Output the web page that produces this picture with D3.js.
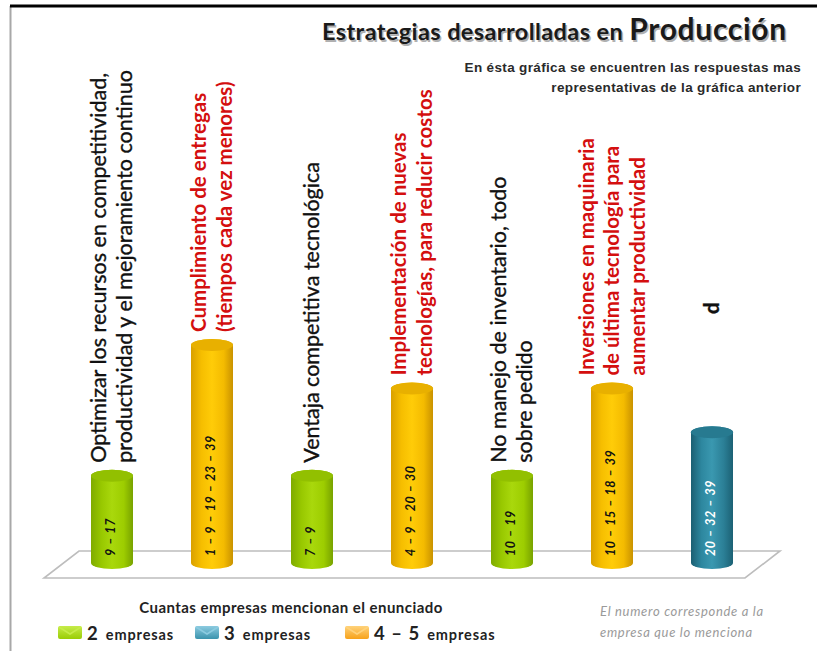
<!DOCTYPE html>
<html>
<head>
<meta charset="utf-8">
<script src="https://cdn.jsdelivr.net/npm/d3@7"></script>
<style>
body{margin:0;background:#fff}
svg{display:block}
</style>
</head>
<body>
<div id="chart"></div>
<script>
// data
var categories=[
	["Optimizar los recursos en competitividad,","productividad y el mejoramiento continuo"],
	["Cumplimiento de entregas","(tiempos cada vez menores)"],
	["Ventaja competitiva tecnológica"],
	["Implementación de nuevas","tecnologías, para reducir costos"],
	["No manejo de inventario, todo","sobre pedido"],
	["Inversiones en maquinaria","de última tecnología para","aumentar productividad"],
	["d"]
]
var companyCounts=[2,5,2,4,2,4,3]
var companyIds=["9 – 17","1 – 9 – 19 – 23 – 39","7 – 9","4 – 9 – 20 – 30","10 – 19","10 – 15 – 18 – 39","20 – 32 – 39"]
var legendGroups=["2","3","4 – 5"]
var legendWord="empresas"
var legendTitle="Cuantas empresas mencionan el enunciado"
var titleMain="Estrategias desarrolladas en"
var titleWord="Producción"
var subtitleLines=["En ésta gráfica se encuentren las respuestas mas","representativas de la gráfica anterior"]
var noteLines=["El numero corresponde a la","empresa que lo menciona"]

function groupOf(n){
	if(n<=2) return "2"
	if(n==3) return "3"
	return "4 – 5"
}

class ProductionChart{

	constructor(){
		this.W=817
		this.H=651
		this.graph={}
	}

	start(){
		this.graph.svg=d3.select("#chart").append("svg")
			.attr("width",this.W)
			.attr("height",this.H)
		this.makeGradients()
		this.drawFrame()
		this.drawTitle()
		this.drawScales()
		this.drawFloor()
		this.drawBars()
		this.drawLabels()
		this.drawLegend()
	}

	makeGradients(){
		var defs=this.graph.svg.append("defs")
		this.colors={
			"2":{side:["#7fab00","#98c800","#a9d80c","#9dcd00","#78a200"],top:"#92c000",key:"#9acd05",keyLight:"#c6ec4a"},
			"3":{side:["#1b5f72","#2d879f","#3a98b0","#2b7f96","#1c6174"],top:"#277a90",key:"#3b93ad",keyLight:"#8ccbe0"},
			"4 – 5":{side:["#d9a000","#f6be00","#ffcc08","#f4bb00","#c99200"],top:"#e8b000",key:"#f7a21a",keyLight:"#ffd27a"}
		}
		var thi=this
		legendGroups.forEach(function(g,i){
			var grad=defs.append("linearGradient")
				.attr("id","side"+i)
				.attr("x1","0").attr("x2","1").attr("y1","0").attr("y2","0")
			var offs=[0,0.25,0.5,0.78,1]
			thi.colors[g].side.forEach(function(c,j){
				grad.append("stop").attr("offset",offs[j]).attr("stop-color",c)
			})
			var kg=defs.append("linearGradient")
				.attr("id","key"+i)
				.attr("x1","0").attr("x2","0").attr("y1","0").attr("y2","1")
			kg.append("stop").attr("offset",0).attr("stop-color",thi.colors[g].keyLight)
			kg.append("stop").attr("offset",1).attr("stop-color",thi.colors[g].key)
		})
	}

	drawFrame(){
		var svg=this.graph.svg
		svg.append("line")
			.attr("x1",10.5).attr("x2",10.5).attr("y1",6).attr("y2",this.H)
			.attr("stroke","#a8a8a8").attr("stroke-width",2)
		svg.append("line")
			.attr("x1",10).attr("x2",this.W).attr("y1",6).attr("y2",6)
			.attr("stroke","#000").attr("stroke-width",3)
	}

	drawTitle(){
		var svg=this.graph.svg
		// shadow first, then the text
		var shadows=[{dx:1.5,fill:"#b0b0b0"},{dx:0,fill:"#1a1a1a"}]
		shadows.forEach(function(s){
			var t=svg.append("text")
				.attr("x",322+s.dx).attr("y",40+s.dx)
				.attr("font-family","Lato, 'Open Sans', sans-serif")
				.attr("font-weight","bold")
				.attr("fill",s.fill)
			t.append("tspan").attr("font-size",23.5).attr("letter-spacing",0.4).text(titleMain+" ")
			t.append("tspan").attr("font-size",30).attr("letter-spacing",0.7).text(titleWord)
		})

		svg.selectAll(".subtitle")
			.data(subtitleLines)
			.enter()
			.append("text")
			.attr("class","subtitle")
			.attr("x",801)
			.attr("y",(d,i)=>72+i*19.5)
			.attr("text-anchor","end")
			.attr("font-family","'Liberation Sans', Arial, sans-serif")
			.attr("font-weight","bold")
			.attr("font-size",13.5)
			.attr("letter-spacing",0.35)
			.attr("fill","#2a2a2a")
			.text(d=>d)
	}

	drawScales(){
		this.graph.x=d3.scalePoint()
			.domain(d3.range(categories.length))
			.range([112,712])
		this.graph.y=d3.scaleLinear()
			.domain([0,5])
			.range([563,345])
		this.graph.rx=21
		this.graph.ry=6
	}

	drawFloor(){
		var x=this.graph.x
		var y0=this.graph.y(0)
		var step=x.step()
		var left=x(0)-step/2-0.5
		var right=x(categories.length-1)+step/2+0.5
		var skew=17.5
		var pts=[[left+skew,y0-12],[right+skew,y0-12],[right-skew,y0+15],[left-skew,y0+15]]
		this.graph.svg.append("path")
			.attr("d","M"+pts.map(p=>p.join(",")).join("L")+"Z")
			.attr("fill","#fff")
			.attr("stroke","#bdbdbd")
			.attr("stroke-width",1.6)
	}

	drawBars(){
		var thi=this
		var g=this.graph
		var rx=g.rx, ry=g.ry
		var y0=g.y(0)
		function cyl(cx,yTop,yBot){
			return "M"+(cx-rx)+","+yTop+"L"+(cx-rx)+","+yBot
				+"A"+rx+","+ry+" 0 0 0 "+(cx+rx)+","+yBot
				+"L"+(cx+rx)+","+yTop
				+"A"+rx+","+ry+" 0 0 0 "+(cx-rx)+","+yTop+"Z"
		}
		var bars=g.svg.selectAll(".bar")
			.data(companyCounts)
			.enter()
			.append("g")
			.attr("class","bar")

		bars.append("path")
			.attr("d",(d,i)=>cyl(g.x(i),g.y(d),y0))
			.attr("fill",d=>"url(#side"+legendGroups.indexOf(groupOf(d))+")")

		bars.append("ellipse")
			.attr("cx",(d,i)=>g.x(i))
			.attr("cy",d=>g.y(d))
			.attr("rx",rx)
			.attr("ry",ry)
			.attr("fill",d=>thi.colors[groupOf(d)].top)

		bars.append("text")
			.attr("transform",(d,i)=>"translate("+(g.x(i)+3)+","+(y0-7)+") rotate(-90)")
			.attr("font-family","Lato, 'Open Sans', sans-serif")
			.attr("font-weight","bold")
			.attr("font-style","italic")
			.attr("font-size",12.5)
			.attr("letter-spacing",0.6)
			.attr("fill",d=>groupOf(d)=="3"?"#fff":"#111")
			.text((d,i)=>companyIds[i])
	}

	drawLabels(){
		var g=this.graph
		var lineGap=25.5
		var labels=g.svg.selectAll(".label")
			.data(categories)
			.enter()
			.append("g")
			.attr("class","label")

		labels.each(function(lines,i){
			var n=lines.length
			var grp=groupOf(companyCounts[i])
			var red=grp=="4 – 5"
			var stub=lines[0].length<2
			var startY=g.y(companyCounts[i])-g.ry-7
			if(stub) startY=g.y(5)-31 // cut off label, only one glyph shows
			d3.select(this).selectAll("text")
				.data(lines)
				.enter()
				.append("text")
				.attr("transform",function(d,j){
					var bx=g.x(i)+7+(j-(n-1)/2)*lineGap
					return "translate("+bx+","+startY+") rotate(-90)"
				})
				.attr("font-family","Lato, 'Open Sans', sans-serif")
				.attr("font-size",red||stub?20.5:21.5)
				.attr("font-weight",red||stub?"bold":"normal")
				.attr("fill",red?"#d40f0f":"#111")
				.attr("stroke",red?"none":"#111")
				.attr("stroke-width",0.35)
				.text(d=>d)
		})
	}

	drawLegend(){
		var svg=this.graph.svg
		var thi=this
		svg.append("text")
			.attr("x",291)
			.attr("y",613)
			.attr("text-anchor","middle")
			.attr("font-family","Lato, 'Open Sans', sans-serif")
			.attr("font-weight","bold")
			.attr("font-size",15)
			.attr("letter-spacing",0.45)
			.attr("fill","#222")
			.text(legendTitle)

		var items=svg.selectAll(".key")
			.data(legendGroups)
			.enter()
			.append("g")
			.attr("class","key")
			.attr("transform",(d,i)=>"translate("+[58,195,345][i]+",626)")

		items.append("rect")
			.attr("width",24).attr("height",13).attr("rx",2)
			.attr("fill",(d,i)=>"url(#key"+i+")")
		items.append("path")
			.attr("d","M1,1L12,8L23,1")
			.attr("fill","none")
			.attr("stroke",d=>thi.colors[d].keyLight)
			.attr("stroke-width",1.5)

		var t=items.append("text")
			.attr("x",29)
			.attr("y",13.5)
			.attr("font-family","Lato, 'Open Sans', sans-serif")
			.attr("font-weight","bold")
			.attr("fill","#222")
		t.append("tspan").attr("font-size",18.5).attr("letter-spacing",1).text(d=>d)
		t.append("tspan").attr("font-size",14.5).attr("dx",7).attr("letter-spacing",0.9).text(legendWord)

		svg.selectAll(".note")
			.data(noteLines)
			.enter()
			.append("text")
			.attr("class","note")
			.attr("x",600)
			.attr("y",(d,i)=>616+i*20.5)
			.attr("font-family","Lato, 'Open Sans', sans-serif")
			.attr("font-style","italic")
			.attr("font-size",13)
			.attr("letter-spacing",0.7)
			.attr("fill","#9a9a9a")
			.text(d=>d)
	}
}

var chart=new ProductionChart()
chart.start()
</script>
</body>
</html>
